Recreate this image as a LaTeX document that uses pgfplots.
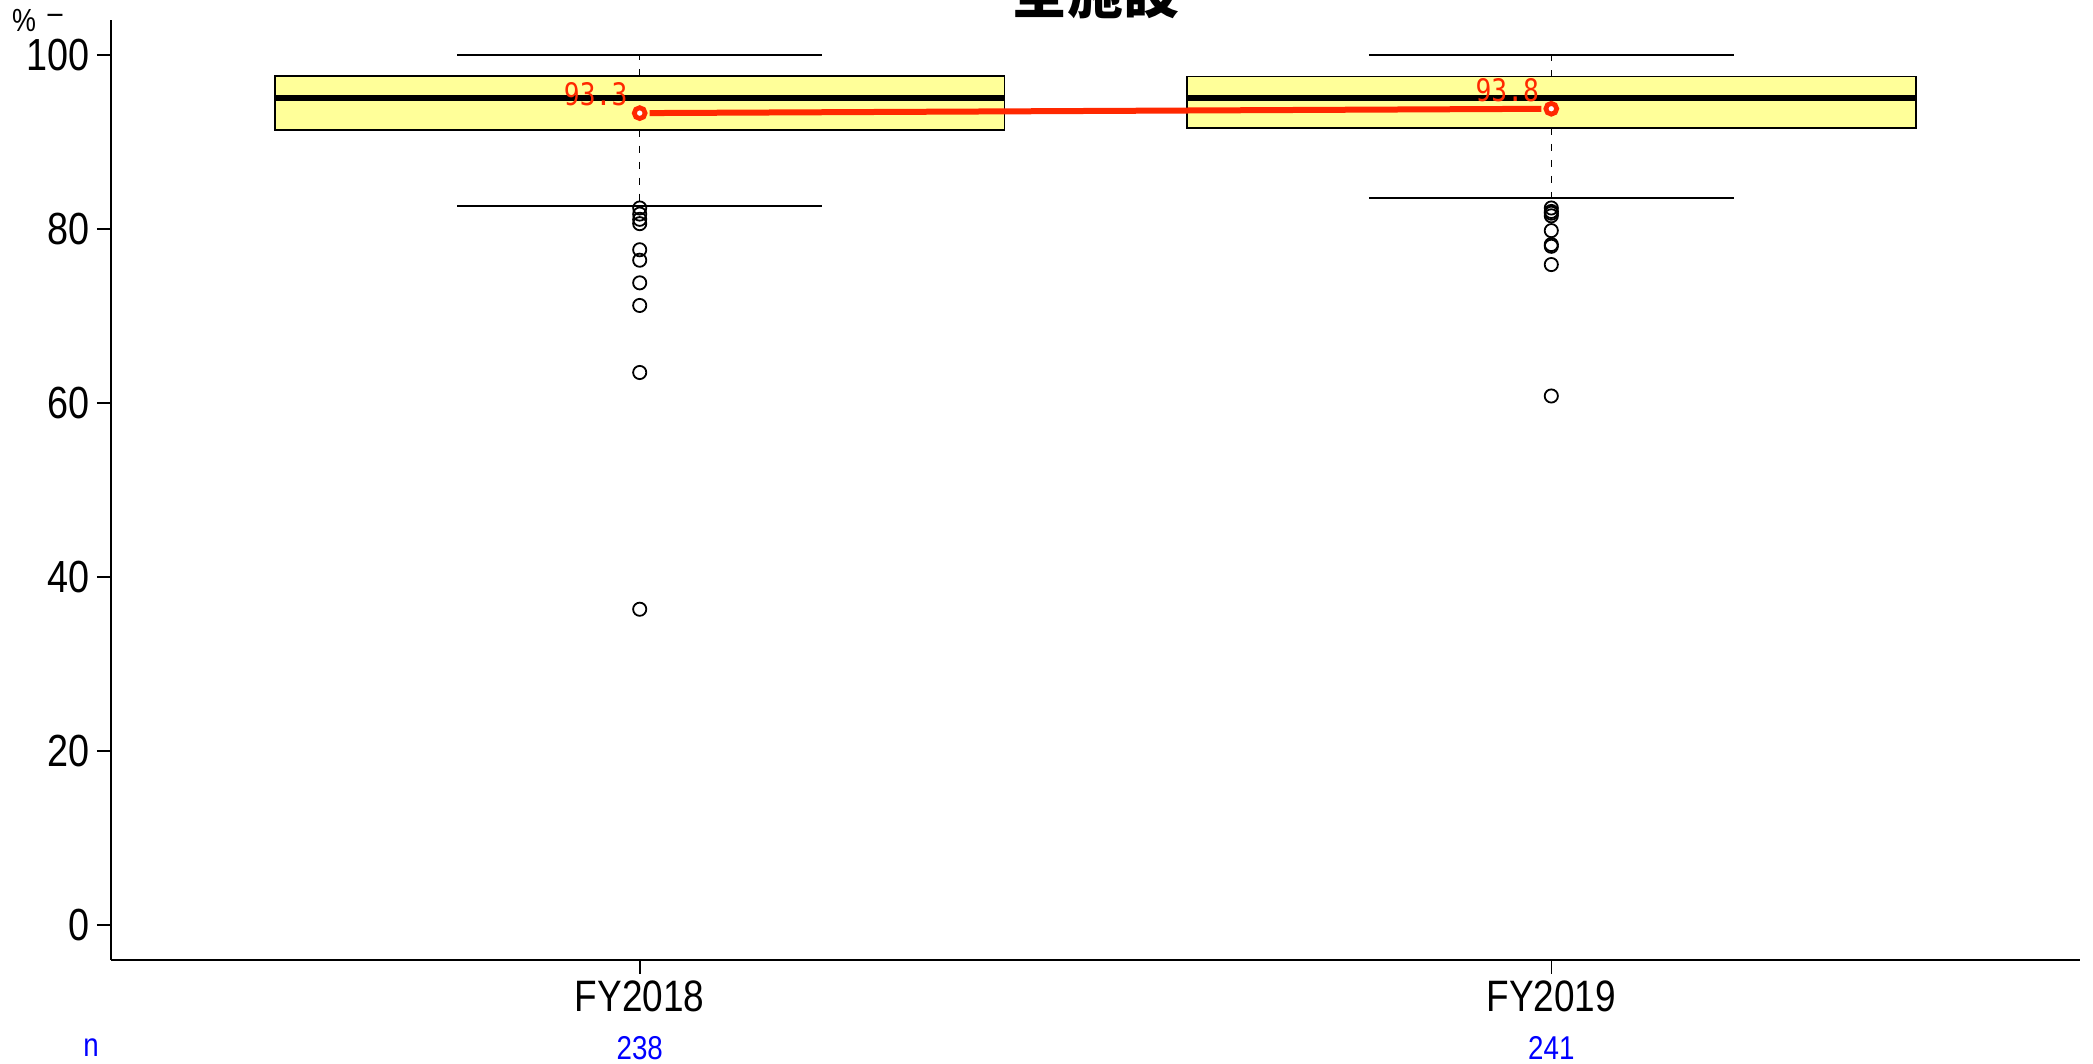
\documentclass[border=0pt]{standalone}
\usepackage{pgfplots}
\pgfplotsset{compat=1.18}
\usepgfplotslibrary{statistics}
\usepackage{fontspec}
\setmainfont{Liberation Sans}[FakeStretch=0.84]
\newfontfamily\cjk{Noto Sans CJK JP}
\newfontfamily\monof{DejaVu Sans Mono}[FakeStretch=0.85]
\definecolor{boxy}{RGB}{255,255,153}
\definecolor{meanred}{RGB}{255,40,0}
\definecolor{nblue}{RGB}{0,0,255}
\begin{document}
\begin{tikzpicture}
\begin{axis}[
  name=ax,
  scale only axis,
  width=984.5pt, height=470pt,
  xmin=0.42, xmax=2.58, ymin=-4, ymax=104,
  axis lines=left,
  axis line style={-, line width=1pt},
  xtick={1,2}, xticklabels={FY2018,FY2019},
  ytick={0,20,40,60,80,100},
  tick align=outside,
  major tick length=7pt,
  tick style={line width=0.8pt, black},
  xticklabel style={font=\fontsize{22}{22}\selectfont},
  yticklabel style={font=\fontsize{22.5}{22.5}\selectfont},
  /pgf/number format/assume math mode=true,
  clip=false,
  boxplot/draw direction=y,
  boxplot/box extend=0.8,
  boxplot/whisker extend=0.4,
  boxplot/draw/box/.code={%
    \draw[fill=boxy, draw=black, line width=0.85pt]
      (boxplot box cs:\pgfplotsboxplotvalue{lower quartile},0)
      rectangle
      (boxplot box cs:\pgfplotsboxplotvalue{upper quartile},1);
  },
  boxplot/draw/median/.code={%
    \draw[line width=3pt]
      (boxplot box cs:\pgfplotsboxplotvalue{median},0)
      --
      (boxplot box cs:\pgfplotsboxplotvalue{median},1);
  },
  boxplot/draw/lower whisker/.code={%
    \draw[line width=0.75pt, dash pattern=on 3.5pt off 4.5pt]
      (boxplot box cs:\pgfplotsboxplotvalue{lower quartile},0.5)
      --
      (boxplot box cs:\pgfplotsboxplotvalue{lower whisker},0.5);
    \draw[line width=1pt]
      (boxplot whisker cs:\pgfplotsboxplotvalue{lower whisker},0)
      --
      (boxplot whisker cs:\pgfplotsboxplotvalue{lower whisker},1);
  },
  boxplot/draw/upper whisker/.code={%
    \draw[line width=0.75pt, dash pattern=on 3.5pt off 4.5pt]
      (boxplot box cs:\pgfplotsboxplotvalue{upper quartile},0.5)
      --
      (boxplot box cs:\pgfplotsboxplotvalue{upper whisker},0.5);
    \draw[line width=1pt]
      (boxplot whisker cs:\pgfplotsboxplotvalue{upper whisker},0)
      --
      (boxplot whisker cs:\pgfplotsboxplotvalue{upper whisker},1);
  },
]
\addplot[black, mark=o, mark size=3.3pt, mark options={line width=0.9pt},
  boxplot prepared={draw position=1, lower whisker=82.6, lower quartile=91.4,
    median=95.0, upper quartile=97.6, upper whisker=100}]
  coordinates {(0,82.4) (0,81.7) (0,81.1) (0,80.6) (0,77.6) (0,76.4) (0,73.8) (0,71.2) (0,63.5) (0,36.3)};
\addplot[black, mark=o, mark size=3.3pt, mark options={line width=0.9pt},
  boxplot prepared={draw position=2, lower whisker=83.6, lower quartile=91.6,
    median=95.0, upper quartile=97.5, upper whisker=100}]
  coordinates {(0,82.4) (0,82.0) (0,81.8) (0,81.5) (0,79.8) (0,78.2) (0,78.0) (0,75.9) (0,60.8)};
\addplot[meanred, line width=3pt, shorten <=5pt, shorten >=5pt, mark=none]
  coordinates {(1,93.3) (2,93.8)};
\addplot[only marks, mark=*, mark size=2.7pt,
  mark options={draw=meanred, fill=white, line width=2.4pt},
  nodes near coords, point meta=explicit symbolic,
  nodes near coords style={font=\monof\fontsize{15.5}{15.5}\selectfont, text=meanred,
    anchor=center, xshift=-22pt, yshift=9.5pt}]
  coordinates {(1,93.3)[93.3] (2,93.8)[93.8]};
\node[text=nblue, font=\fontsize{16.5}{16.5}\selectfont] at ([yshift=-44pt]axis cs:1,-4) {238};
\node[text=nblue, font=\fontsize{16.5}{16.5}\selectfont] at ([yshift=-44pt]axis cs:2,-4) {241};
\node[text=nblue, font=\fontsize{16.5}{16.5}\selectfont] at ([xshift=-10pt,yshift=-44pt]axis cs:0.42,-4) {n};
\end{axis}
\node[font=\cjk\bfseries\fontsize{28}{28}\selectfont, anchor=base] at ([yshift=3pt]ax.north) {全施設};
\node[font=\fontsize{16}{16}\selectfont, inner sep=0pt] at ([xshift=-43.5pt,yshift=-0.5pt]ax.north west) {\%};
\node[font=\fontsize{16}{16}\selectfont, inner sep=0pt] at ([xshift=-28pt,yshift=0.5pt]ax.north west) {–};
\pgfresetboundingbox
\useasboundingbox ([xshift=-55.5pt,yshift=10pt]ax.north west) rectangle ([xshift=6.5pt,yshift=-52pt]ax.south east);
\end{tikzpicture}
\end{document}
